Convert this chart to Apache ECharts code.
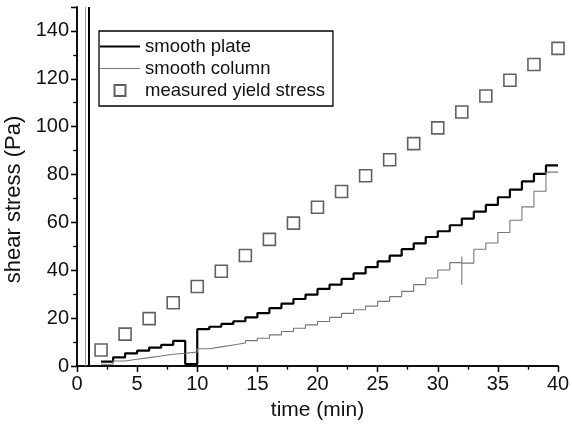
<!DOCTYPE html>
<html>
<head>
<meta charset="utf-8">
<script src="https://cdn.jsdelivr.net/npm/echarts@6/dist/echarts.min.js"></script>
<style>
  html, body { margin: 0; padding: 0; background: #fff; }
  #chart { width: 572px; height: 429px; }
</style>
</head>
<body>
<div id="chart"></div>
<script>
const fontFamily = '"Liberation Sans", Arial, Helvetica, sans-serif'

// smooth plate (step every minute)
const plateTime = [2, 3, 4, 5, 6, 7, 8, 9, 10, 11, 12, 13, 14, 15, 16, 17, 18, 19, 20, 21,
  22, 23, 24, 25, 26, 27, 28, 29, 30, 31, 32, 33, 34, 35, 36, 37, 38, 39, 40]
const plateStress = [1.8, 3.6, 5.3, 6.4, 7.7, 8.8, 10.5, 0.8, 15.4, 16.4, 17.6, 18.7, 20.3, 22.1,
  24.2, 26.1, 28.0, 29.8, 32.2, 34.0, 36.4, 38.7, 41.3, 43.7, 46.1, 48.8, 51.2, 53.9, 56.3,
  58.8, 61.6, 64.5, 67.3, 70.5, 73.7, 77.1, 80.3, 83.8, 83.8]

// smooth column (spike at 32 min)
const columnTime = [2, 3, 4, 5, 6, 7, 8, 9, 10, 11, 12, 13, 14, 15, 16, 17, 18, 19, 20, 21,
  22, 23, 24, 25, 26, 27, 28, 29, 30, 31, 32, 32, 32, 33, 34, 35, 36, 37, 38, 39, 40]
const columnStress = [0.7, 2.1, 2.8, 3.5, 4.2, 4.9, 5.3, 5.8, 7.2, 8.0, 8.8, 9.6, 10.6, 11.6,
  13.0, 14.4, 15.8, 17.2, 18.6, 20.3, 22.0, 23.5, 25.0, 27.0, 29.0, 31.2, 34.0, 36.8, 40.1,
  43.2, 45.7, 34.0, 43.0, 48.8, 51.4, 55.8, 60.9, 66.5, 73.0, 81.0, 81.0]

// measured yield stress
const yieldTime = [2, 4, 6, 8, 10, 12, 14, 16, 18, 20, 22, 24, 26, 28, 30, 32, 34, 36, 38, 40]
const yieldStress = [6.7, 13.3, 19.8, 26.4, 33.2, 39.6, 46.2, 52.9, 59.7, 66.3, 72.9, 79.5,
  86.2, 92.9, 99.5, 106.1, 112.8, 119.4, 126.0, 132.7]

// start-up spikes (vertical lines)
const plateStart = 1.0
const columnStart = 0.7

const zip = (xs, ys) => xs.map((x, i) => [x, ys[i]])

const chart = echarts.init(document.getElementById('chart'))

const axisLine = { show: true, lineStyle: { color: '#000', width: 1.5 } }
const axisLabel = { color: '#111', fontSize: 20, fontFamily }

chart.setOption({
  animation: false,
  grid: { left: 77, right: 14, top: 7, bottom: 63, outerBoundsMode: 'none', containLabel: false },
  legend: {
    left: 99,
    top: 31,
    orient: 'vertical',
    itemWidth: 40,
    itemHeight: 11,
    itemGap: 3,
    padding: [6, 8, 6, 1],
    borderColor: '#000',
    borderWidth: 1.3,
    textStyle: { color: '#111', fontSize: 18.5, fontFamily },
    data: [
      { name: 'smooth plate', icon: 'path://M0,0H40V2.2H0Z', itemStyle: { borderWidth: 0 } },
      { name: 'smooth column', icon: 'path://M0,0H40V1.1H0Z', itemStyle: { borderWidth: 0 } },
      { name: 'measured yield stress', icon: 'path://M0,0H10V10H0Z' }
    ]
  },
  xAxis: [{
    type: 'value',
    min: 0,
    max: 40,
    interval: 5,
    name: 'time (min)',
    nameLocation: 'middle',
    nameGap: 34,
    nameTextStyle: { color: '#111', fontSize: 21, fontFamily },
    axisLine,
    axisTick: { show: true, length: 6, lineStyle: { color: '#000', width: 1.3 } },
    minorTick: { show: true, splitNumber: 2, length: 3.5, lineStyle: { color: '#000', width: 1.2 } },
    axisLabel: { ...axisLabel, margin: 8 },
    splitLine: { show: false }
  }, {
    type: 'value',
    position: 'top',
    min: 0,
    max: 40,
    interval: 5,
    axisLine,
    axisTick: { show: true, inside: true, length: 6, lineStyle: { color: '#000', width: 1.3 } },
    minorTick: { show: true, splitNumber: 2, length: 3.5, lineStyle: { color: '#000', width: 1.2 } },
    axisLabel: { show: false },
    splitLine: { show: false }
  }],
  yAxis: [{
    type: 'value',
    min: 0,
    max: 150,
    interval: 20,
    name: 'shear stress (Pa)',
    nameLocation: 'middle',
    nameGap: 39,
    nameTextStyle: { color: '#111', fontSize: 22, fontFamily, padding: [0, 26, 0, 0] },
    axisLine,
    axisTick: { show: true, length: 6, lineStyle: { color: '#000', width: 1.3 } },
    minorTick: { show: true, splitNumber: 2, length: 3.5, lineStyle: { color: '#000', width: 1.2 } },
    axisLabel: { ...axisLabel, margin: 8, showMaxLabel: false },
    splitLine: { show: false }
  }, {
    type: 'value',
    position: 'right',
    min: 0,
    max: 150,
    interval: 20,
    axisLine,
    axisTick: { show: true, inside: true, length: 6, lineStyle: { color: '#000', width: 1.3 } },
    minorTick: { show: true, splitNumber: 2, length: 3.5, lineStyle: { color: '#000', width: 1.2 } },
    axisLabel: { show: false },
    splitLine: { show: false }
  }],
  series: [
    {
      name: 'smooth plate',
      type: 'line',
      step: 'end',
      symbol: 'none',
      data: zip(plateTime, plateStress),
      lineStyle: { color: '#000', width: 2.2 },
      itemStyle: { color: '#000' },
      markLine: {
        silent: true,
        symbol: 'none',
        label: { show: false },
        lineStyle: { color: '#000', width: 2, type: 'solid' },
        data: [{ xAxis: plateStart }]
      }
    },
    {
      name: 'smooth column',
      type: 'line',
      step: 'end',
      symbol: 'none',
      data: zip(columnTime, columnStress),
      lineStyle: { color: '#777', width: 1.1 },
      itemStyle: { color: '#777' },
      markLine: {
        silent: true,
        symbol: 'none',
        label: { show: false },
        lineStyle: { color: '#999', width: 1, type: 'solid' },
        data: [{ xAxis: columnStart }]
      }
    },
    {
      name: 'measured yield stress',
      type: 'scatter',
      symbol: 'rect',
      symbolSize: 12,
      data: zip(yieldTime, yieldStress),
      itemStyle: { color: '#fff', borderColor: '#3a3a3a', borderWidth: 1.6 }
    }
  ]
})
</script>
</body>
</html>
